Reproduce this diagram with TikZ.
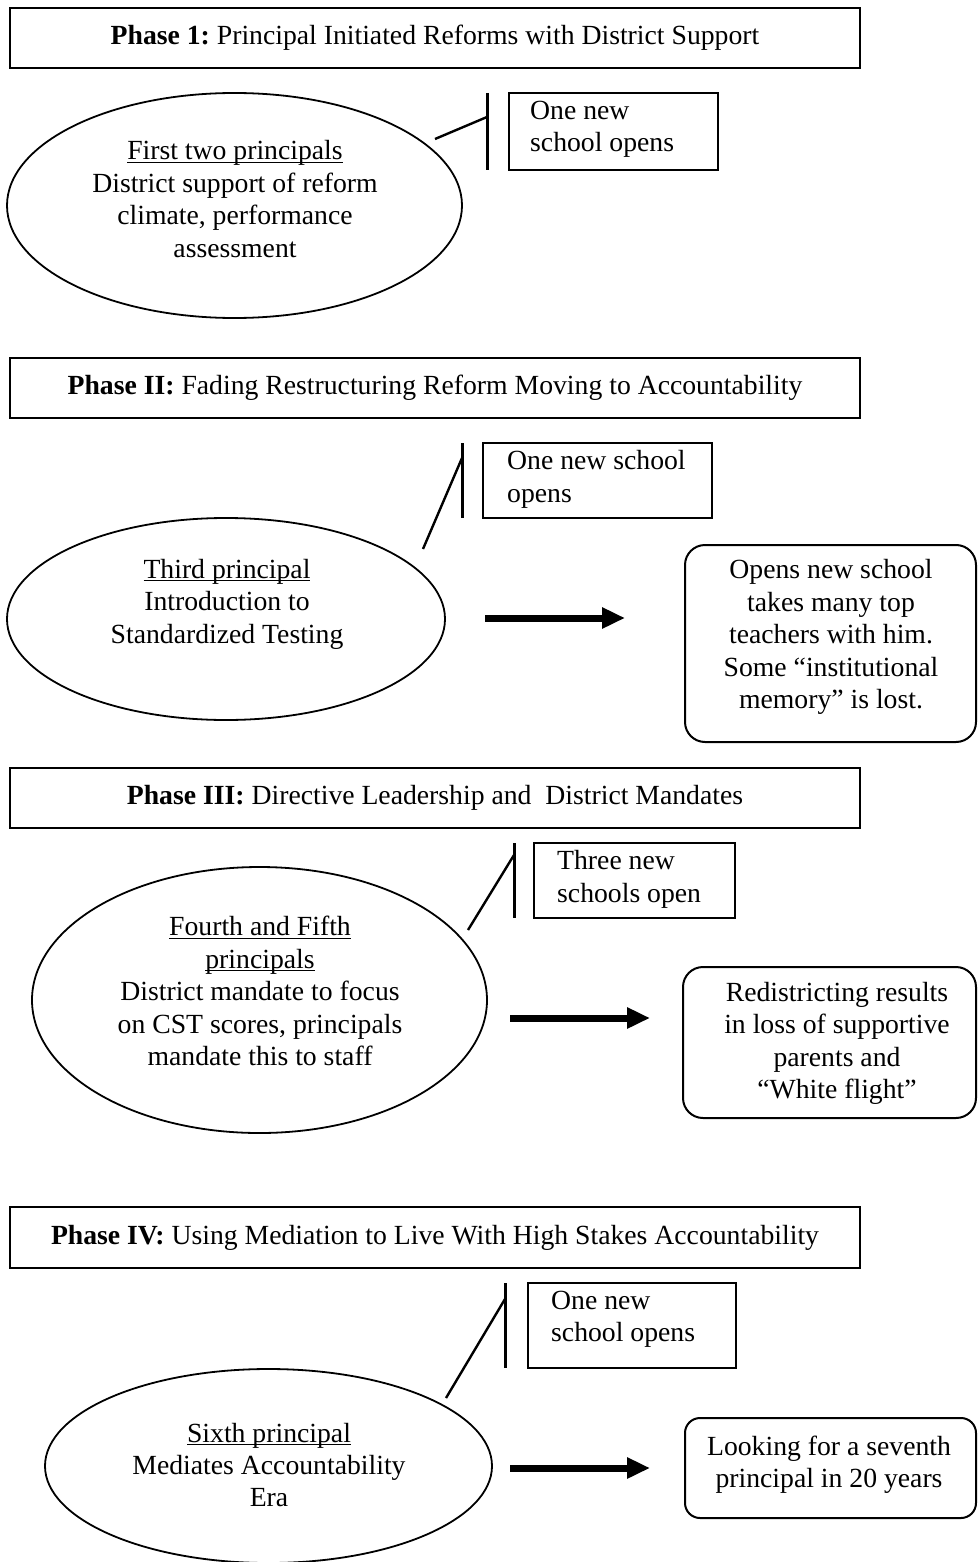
\documentclass[tikz,border=0pt]{standalone}
\usepackage{fontspec}
\setmainfont{Liberation Serif}
\usetikzlibrary{shapes.geometric,arrows.meta}
\frenchspacing

% underline sitting just under the baseline, crossing descenders
\newcommand\ulined[1]{\setbox0\hbox{#1}\rlap{\rule[-3.2pt]{\wd0}{1.3pt}}\box0}

\tikzset{
  txt/.style={inner sep=0pt, align=center, font=\fontsize{27.7}{32.4}\selectfont},
  ltxt/.style={txt, align=left, anchor=west},
  phasebox/.style={draw, line width=1.3pt, minimum width=850pt, minimum height=60pt,
                   inner sep=0pt, font=\fontsize{27.7}{32.4}\selectfont},
  oval/.style={draw, ellipse, line width=1.8pt, inner sep=0pt},
  callbox/.style={draw, line width=2pt, inner sep=0pt},
  bracket/.style={line width=3pt},
  leader/.style={line width=2.4pt},
  resultbox/.style={draw, line width=2pt, rounded corners=20pt, inner sep=0pt},
  bigarrow/.style={line width=7pt, -{Triangle[length=23pt,width=20pt]}},
}

\begin{document}
\begin{tikzpicture}[x=1pt,y=-1pt]
\clip (0,0) rectangle (977,1562);
\fill[white] (0,0) rectangle (977,1562);

% ---------------- Phase 1 ----------------
\node[phasebox] (p1) at (435,38) {\textbf{Phase 1:} Principal Initiated Reforms with District Support};

\node[oval, minimum width=455pt, minimum height=225pt] (e1) at (234.5,205.5) {};
\node[txt] (e1t) at (235,199) {\ulined{First two principals}\\District support of reform\\climate, performance\\assessment};

\node[callbox, minimum width=209pt, minimum height=77pt] (c1) at (613.5,131.5) {};
\node[ltxt] (c1t) at (530,129.5) {One new\\school opens};
\coordinate (b1a) at (487,93);
\coordinate (b1b) at (487,170);
\coordinate (b1m) at (487,117);
\coordinate (l1) at (435,139);
\draw[bracket] (b1a) -- (b1b);
\draw[leader] (l1) -- (b1m);

% ---------------- Phase II ----------------
\node[phasebox] (p2) at (435,388) {\textbf{Phase II:} Fading Restructuring Reform Moving to Accountability};

\node[oval, minimum width=438pt, minimum height=202pt] (e2) at (226,619) {};
\node[txt] (e2t) at (227,604) {\ulined{Third principal}\\Introduction to\\Standardized Testing};

\node[callbox, minimum width=229pt, minimum height=75pt] (c2) at (597.5,480.5) {};
\node[ltxt] (c2t) at (507,479.5) {One new school\\opens};
\coordinate (b2a) at (462,443);
\coordinate (b2b) at (462,518);
\coordinate (b2m) at (462,458);
\coordinate (l2) at (423,549);
\draw[bracket] (b2a) -- (b2b);
\draw[leader] (l2) -- (b2m);

\coordinate (a2s) at (485,618);
\coordinate (a2e) at (625,618);
\draw[bigarrow] (a2s) -- (a2e);

\node[resultbox, minimum width=291pt, minimum height=197pt] (r2) at (830.5,643.5) {};
\node[txt] (r2t) at (831,637) {Opens new school\\takes many top\\teachers with him.\\Some “institutional\\memory” is lost.};

% ---------------- Phase III ----------------
\node[phasebox] (p3) at (435,798) {\textbf{Phase III:} Directive Leadership and~~District Mandates};

\node[oval, minimum width=455pt, minimum height=266pt] (e3) at (259.5,1000) {};
\node[txt] (e3t) at (260,991) {\ulined{Fourth and Fifth}\\\ulined{principals}\\District mandate to focus\\on CST scores, principals\\mandate this to staff};

\node[callbox, minimum width=201pt, minimum height=75pt] (c3) at (634.5,880.5) {};
\node[ltxt] (c3t) at (557,879.5) {Three new\\schools open};
\coordinate (b3a) at (514,843);
\coordinate (b3b) at (514,918);
\coordinate (b3m) at (514,855);
\coordinate (l3) at (468,930);
\draw[bracket] (b3a) -- (b3b);
\draw[leader] (l3) -- (b3m);

\coordinate (a3s) at (510,1018);
\coordinate (a3e) at (650,1018);
\draw[bigarrow] (a3s) -- (a3e);

\node[resultbox, minimum width=293pt, minimum height=151pt] (r3) at (829.5,1042.5) {};
\node[txt] (r3t) at (837,1043.5) {Redistricting results\\in loss of supportive\\parents and\\“White flight”};

% ---------------- Phase IV ----------------
\node[phasebox, minimum height=61pt] (p4) at (435,1237.5) {\textbf{Phase IV:} Using Mediation to Live With High Stakes Accountability};

\node[oval, minimum width=447pt, minimum height=194pt] (e4) at (268.5,1466) {};
\node[txt] (e4t) at (269,1465) {\ulined{Sixth principal}\\Mediates Accountability\\Era};

\node[callbox, minimum width=208pt, minimum height=85pt] (c4) at (632,1325.5) {};
\node[ltxt] (c4t) at (551,1319.5) {One new\\school opens};
\coordinate (b4a) at (505,1283);
\coordinate (b4b) at (505,1368);
\coordinate (b4m) at (505,1299);
\coordinate (l4) at (446,1398);
\draw[bracket] (b4a) -- (b4b);
\draw[leader] (l4) -- (b4m);

\coordinate (a4s) at (510,1468);
\coordinate (a4e) at (650,1468);
\draw[bigarrow] (a4s) -- (a4e);

\node[resultbox, rounded corners=15pt, minimum width=291pt, minimum height=100pt] (r4) at (830.5,1468) {};
\node[txt] (r4t) at (829,1465) {Looking for a seventh\\principal in 20 years};
\end{tikzpicture}
\end{document}
